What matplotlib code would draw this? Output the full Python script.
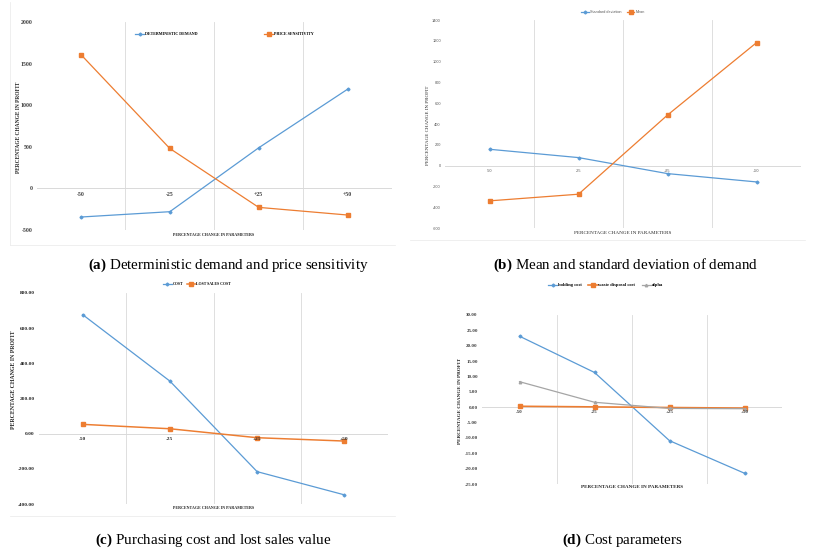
import matplotlib
matplotlib.use('Agg')
import matplotlib.pyplot as plt
from matplotlib.lines import Line2D
from matplotlib.transforms import offset_copy

W, H = 821, 553
plt.rcParams['mathtext.fontset'] = 'custom'
plt.rcParams['mathtext.bf'] = 'Liberation Serif:bold'
plt.rcParams['mathtext.rm'] = 'Liberation Serif'

# ---------------- data ----------------
categories = ['-50', '-25', '+25', '+50']

a_det_demand = [-344, -280, 488, 1192]
a_price_sens = [1608, 480, -228, -320]
a_yticks = [-500, 0, 500, 1000, 1500, 2000]

b_std = [157, 77, -77, -157]
b_mean = [-339, -275, 486, 1182]
b_yticks = [-600, -400, -200, 0, 200, 400, 600, 800, 1000, 1200, 1400]

c_cost = [677, 299, -216, -348]
c_lost = [53, 28, -23, -42]
c_yticks = [-400, -200, 0, 200, 400, 600, 800]

d_holding = [23.1, 11.3, -10.9, -21.5]
d_waste = [0.3, 0.1, -0.1, -0.3]
d_alpha = [8.3, 1.6, -0.4, -0.5]
d_yticks = [-25, -20, -15, -10, -5, 0, 5, 10, 15, 20, 25, 30]

BLUE = '#5B9BD5'
ORANGE = '#ED7D31'
GRAY = '#A5A5A5'
GRID = '#D9D9D9'
SERIF = 'Liberation Serif'
SANS = 'Liberation Sans'

fig = plt.figure(figsize=(W / 100, H / 100), dpi=100)
fig.patch.set_facecolor('white')


def px_axes(x0, y0, x1, y1):
    return fig.add_axes([x0 / W, 1 - y1 / H, (x1 - x0) / W, (y1 - y0) / H])


def fx(x):
    return x / W


def fy(y):
    return 1 - y / H


def style_axes(ax, ylim, yticks, fmt, tick_font, tick_size, tick_color, tick_weight,
               cat_font, cat_size, cat_color, cat_weight, cat_off):
    ax.set_xlim(-0.5, 3.5)
    ax.set_ylim(*ylim)
    for s in ax.spines.values():
        s.set_visible(False)
    ax.set_xticks([])
    ax.set_yticks(yticks)
    ax.set_yticklabels([fmt.format(v) for v in yticks], fontfamily=tick_font,
                       fontsize=tick_size, color=tick_color, fontweight=tick_weight)
    ax.tick_params(axis='y', length=0, pad=3)
    for v in [0.5, 1.5, 2.5, 3.5]:
        ax.axvline(v, color=GRID, lw=0.6, zorder=0)
    ax.axhline(0, color=GRID, lw=0.7, zorder=0)
    tr = offset_copy(ax.transData, fig=fig, y=-cat_off, units='dots')
    for i, c in enumerate(categories):
        ax.text(i, 0, c, transform=tr, ha='center', va='top', fontfamily=cat_font,
                fontsize=cat_size, color=cat_color, fontweight=cat_weight)


xs = list(range(len(categories)))
LW = 0.9
BMS = 1.5
OMS = 2.2

# ---------------- panel (a) ----------------
ax = px_axes(36.5, 22, 392, 230)
style_axes(ax, (-500, 2000), a_yticks, '{:d}', SERIF, 4.2, '#404040', 'bold',
           SERIF, 4.2, '#404040', 'bold', 4)
ax.plot(xs, a_det_demand, color=BLUE, lw=LW, marker='D', ms=BMS, label='DETERMINISTIC DEMAND')
ax.plot(xs, a_price_sens, color=ORANGE, lw=LW, marker='s', ms=OMS, label='PRICE SENSITIVITY')
ax.legend(loc='center left', bbox_to_anchor=(fx(135), fy(34)), bbox_transform=fig.transFigure,
          ncol=2, frameon=False, borderpad=0, borderaxespad=0, handlelength=2.2,
          handletextpad=0.2, columnspacing=16,
          prop={'family': SERIF, 'size': 3, 'weight': 'bold'})
fig.text(fx(18), fy(127), 'PERCENTAGE CHANGE IN PROFIT', rotation=90, ha='center', va='center',
         fontfamily=SERIF, fontsize=4, fontweight='bold', color='#262626')
fig.text(fx(214), fy(235), 'PERCENTAGE CHANGE IN PARAMETERS', ha='center', va='center',
         fontfamily=SERIF, fontsize=3, fontweight='bold', color='#262626')

# ---------------- panel (b) ----------------
ax = px_axes(445, 20, 801, 228)
style_axes(ax, (-600, 1400), b_yticks, '{:d}', SANS, 2.8, '#595959', 'normal',
           SANS, 2.8, '#595959', 'normal', 3)
ax.plot(xs, b_std, color=BLUE, lw=LW, marker='D', ms=BMS, label='Standard deviation')
ax.plot(xs, b_mean, color=ORANGE, lw=LW, marker='s', ms=OMS, label='Mean')
ax.legend(loc='center left', bbox_to_anchor=(fx(581), fy(12)), bbox_transform=fig.transFigure,
          ncol=2, frameon=False, borderpad=0, borderaxespad=0, handlelength=2.0,
          handletextpad=0.4, columnspacing=1.4, labelcolor='#595959',
          prop={'family': SANS, 'size': 2.7})
fig.text(fx(428), fy(125), 'PERCENTAGE CHANGE IN PROFIT', rotation=90, ha='center', va='center',
         fontfamily=SERIF, fontsize=3.6, color='#262626')
fig.text(fx(623), fy(233), 'PERCENTAGE CHANGE IN PARAMETERS', ha='center', va='center',
         fontfamily=SERIF, fontsize=3.7, color='#262626')

# ---------------- panel (c) ----------------
ax = px_axes(39, 293, 388, 504)
style_axes(ax, (-400, 800), c_yticks, '{:.2f}', SERIF, 3.9, '#262626', 'bold',
           SERIF, 3.9, '#262626', 'bold', 3)
ax.plot(xs, c_cost, color=BLUE, lw=LW, marker='D', ms=BMS, label='COST')
ax.plot(xs, c_lost, color=ORANGE, lw=LW * 1.2, marker='s', ms=OMS, label='LOST SALES COST')
ax.legend(loc='center left', bbox_to_anchor=(fx(163), fy(284)), bbox_transform=fig.transFigure,
          ncol=2, frameon=False, borderpad=0, borderaxespad=0, handlelength=2.3,
          handletextpad=0.1, columnspacing=1.0,
          prop={'family': SERIF, 'size': 2.8, 'weight': 'bold'})
fig.text(fx(14), fy(380), 'PERCENTAGE CHANGE IN PROFIT', rotation=90, ha='center', va='center',
         fontfamily=SERIF, fontsize=4.2, fontweight='bold', color='#262626')
fig.text(fx(214), fy(508), 'PERCENTAGE CHANGE IN PARAMETERS', ha='center', va='center',
         fontfamily=SERIF, fontsize=3, fontweight='bold', color='#262626')

# ---------------- panel (d) ----------------
ax = px_axes(482, 315, 782, 484)
style_axes(ax, (-25, 30), d_yticks, '{:.2f}', SERIF, 3.6, '#404040', 'bold',
           SERIF, 3.6, '#404040', 'bold', 3)
ax.plot(xs, d_holding, color=BLUE, lw=LW, marker='D', ms=BMS, label='holding cost')
ax.plot(xs, d_waste, color=ORANGE, lw=LW * 1.3, marker='s', ms=OMS, label='waste disposal cost')
ax.plot(xs, d_alpha, color=GRAY, lw=LW, marker='^', ms=1.8, label='alpha')
ax.legend(loc='center left', bbox_to_anchor=(fx(548), fy(285)), bbox_transform=fig.transFigure,
          ncol=3, frameon=False, borderpad=0, borderaxespad=0, handlelength=2.0,
          handletextpad=0.1, columnspacing=1.5,
          prop={'family': SERIF, 'size': 3.3, 'weight': 'bold'})
fig.text(fx(460), fy(401), 'PERCENTAGE CHANGE IN PROFIT', rotation=90, ha='center', va='center',
         fontfamily=SERIF, fontsize=3.7, fontweight='bold', color='#262626')
fig.text(fx(632), fy(487), 'PERCENTAGE CHANGE IN PARAMETERS', ha='center', va='center',
         fontfamily=SERIF, fontsize=3.7, fontweight='bold', color='#262626')

# faint chart-image borders
for (x0, y0, x1, y1) in [(10, 2, 10, 245), (10, 245, 395, 245), (410, 240, 805, 240),
                         (10, 516, 395, 516)]:
    fig.add_artist(Line2D([fx(x0), fx(x1)], [fy(y0), fy(y1)], color='#EDEDED', lw=0.6))

# ---------------- captions ----------------
cap = dict(ha='center', va='center', fontfamily=SERIF, fontsize=10.8, color='black')
fig.text(fx(228), fy(265), r'$\mathbf{(a)}$ Deterministic demand and price sensitivity', **cap)
fig.text(fx(626), fy(265), r'$\mathbf{(b)}$ Mean and standard deviation of demand', **cap)
fig.text(fx(213), fy(540), r'$\mathbf{(c)}$ Purchasing cost and lost sales value', **cap)
fig.text(fx(622), fy(540), r'$\mathbf{(d)}$ Cost parameters', **cap)

fig.savefig('out.png', dpi=100, facecolor='white')
